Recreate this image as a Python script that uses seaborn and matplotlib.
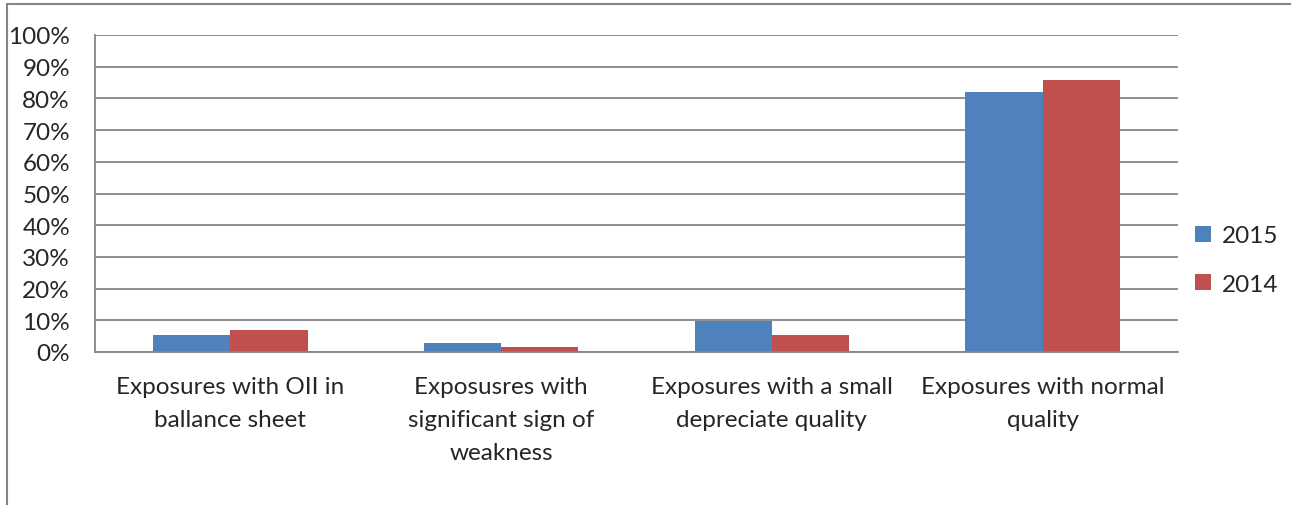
import pandas as pd
import seaborn as sns
import matplotlib.pyplot as plt
from matplotlib.lines import Line2D
from matplotlib.ticker import MultipleLocator, FuncFormatter, FixedLocator

categories = ["Exposures with OII in\nballance sheet",
              "Exposusres with\nsignificant sign of\nweakness",
              "Exposures with a small\ndepreciate quality",
              "Exposures with normal\nquality"]
years = ["2015", "2014"]
vals_2015 = [5.4, 2.8, 9.7, 81.9]
vals_2014 = [7.0, 1.5, 5.3, 85.7]

df = pd.DataFrame({
    "category": categories * 2,
    "year": [years[0]] * 4 + [years[1]] * 4,
    "value": vals_2015 + vals_2014,
})

sns.set_style("white")
plt.rcParams['font.family'] = ['Lato', 'DejaVu Sans']
grey = "#868686"

fig = plt.figure(figsize=(12.91, 5.06), dpi=100)
ax = fig.add_axes([95 / 1291, 1 - 353 / 506, (1178 - 95) / 1291, (353 - 36) / 506])

sns.barplot(data=df, x="category", y="value", hue="year", order=categories,
            hue_order=years, palette=["#4F81BD", "#C0504D"], width=2 / 3.5,
            saturation=1, ax=ax, legend=True, edgecolor="none")

ax.set_ylim(0, 100)
ax.set_xlim(-0.5, 3.5)
ax.yaxis.set_major_locator(MultipleLocator(10))
ax.yaxis.set_major_formatter(FuncFormatter(lambda v, p: f"{v:.0f}%"))
ax.grid(axis="y", color=grey, linewidth=1.3)
ax.set_axisbelow(True)
for s in ["top", "right"]:
    ax.spines[s].set_visible(False)
for s in ["left", "bottom"]:
    ax.spines[s].set_color(grey)
    ax.spines[s].set_linewidth(1.3)

ax.tick_params(axis="y", length=7, color=grey, width=1.3, labelsize=17.5, pad=11)
ax.tick_params(axis="x", which="major", length=0, labelsize=17.5, pad=17)
ax.xaxis.set_minor_locator(FixedLocator([-0.5, 0.5, 1.5, 2.5, 3.5]))
ax.tick_params(axis="x", which="minor", length=7, color=grey, width=1.3)
for lbl in ax.get_xticklabels():
    lbl.set_linespacing(1.72)
ax.set_xlabel("")
ax.set_ylabel("")

ax.legend(loc="center left", bbox_to_anchor=(1.0, 0.29), frameon=False,
          fontsize=17.5, handlelength=0.65, handleheight=0.65, handletextpad=0.45,
          labelspacing=1.12, borderaxespad=0.3)

# chart area border (cropped on right and bottom)
fig.add_artist(Line2D([7 / 1291, 7 / 1291], [0, 1 - 5 / 506], color=grey, lw=1.5))
fig.add_artist(Line2D([7 / 1291, 1], [1 - 5 / 506, 1 - 5 / 506], color=grey, lw=1.5))

plt.savefig("out.png", dpi=100)
plt.close()
